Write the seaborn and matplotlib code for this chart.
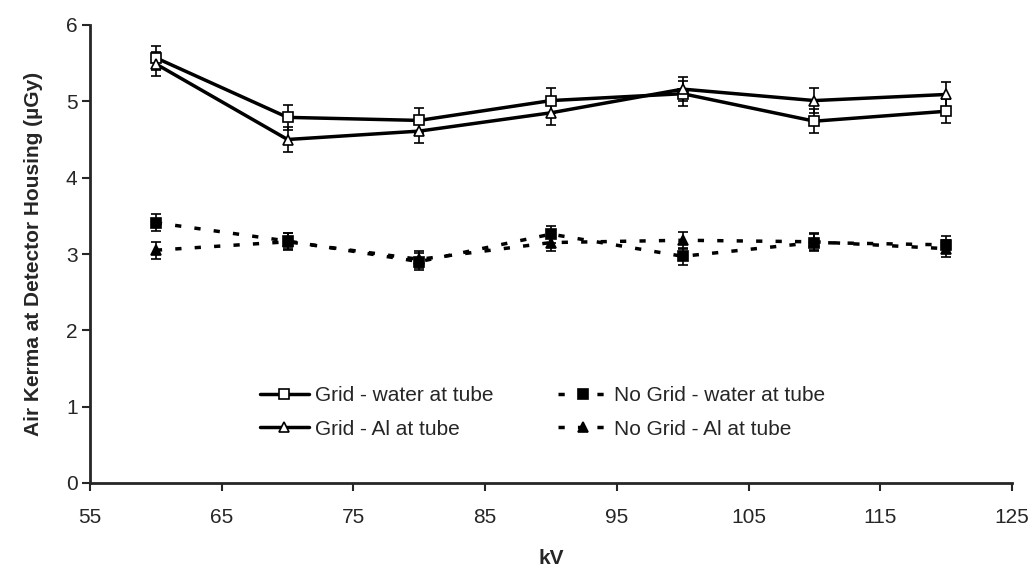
import matplotlib
matplotlib.use("Agg")
import matplotlib.pyplot as plt
import seaborn as sns
import pandas as pd

kv = [60, 70, 80, 90, 100, 110, 120]
grid_water = [5.57, 4.79, 4.75, 5.01, 5.10, 4.74, 4.87]
grid_al = [5.49, 4.50, 4.61, 4.85, 5.16, 5.01, 5.09]
nogrid_water = [3.41, 3.17, 2.90, 3.26, 2.97, 3.15, 3.12]
nogrid_al = [3.05, 3.16, 2.93, 3.15, 3.18, 3.16, 3.07]
err_grid = 0.16
err_nogrid = 0.11

series = [
    ("Grid - water at tube", grid_water, err_grid),
    ("Grid - Al at tube", grid_al, err_grid),
    ("No Grid - water at tube", nogrid_water, err_nogrid),
    ("No Grid - Al at tube", nogrid_al, err_nogrid),
]
dash = (0, (1.8, 3.8))
styles = {
    "Grid - water at tube": dict(marker="s", mfc="white", ls="-"),
    "Grid - Al at tube": dict(marker="^", mfc="white", ls="-"),
    "No Grid - water at tube": dict(marker="s", mfc="black", ls=dash),
    "No Grid - Al at tube": dict(marker="^", mfc="black", ls=dash),
}

df = pd.concat(
    [pd.DataFrame({"kV": kv, "value": vals, "series": name}) for name, vals, _ in series],
    ignore_index=True,
)

sns.set_style("ticks")
plt.rcParams["font.family"] = ["Liberation Sans", "DejaVu Sans"]
FS = 15

W, H = 1034, 569
fig = plt.figure(figsize=(W / 100, H / 100), dpi=100)
left, right, top, bottom = 90, 1012, 25, 483
ax = fig.add_axes([left / W, (H - bottom) / H, (right - left) / W, (bottom - top) / H])

for name, vals, err in series:
    st = styles[name]
    sub = df[df["series"] == name]
    ax.errorbar(sub["kV"], sub["value"], yerr=err, fmt="none", ecolor="black",
                elinewidth=1.2, capsize=3.5, capthick=1.2, zorder=2)
    sns.lineplot(data=sub, x="kV", y="value", ax=ax, color="black",
                 linewidth=2.5, linestyle=st["ls"], marker=st["marker"],
                 markersize=8, markerfacecolor=st["mfc"], markeredgecolor="black",
                 markeredgewidth=1.2, label=name, zorder=3)

ax.set_xlim(55, 125)
ax.set_ylim(0, 6)
ax.set_xticks(range(55, 126, 10))
ax.set_yticks(range(0, 7))
ax.tick_params(axis="both", labelsize=FS, width=1.5, length=6, direction="out")
ax.tick_params(axis="x", pad=12)
ax.tick_params(axis="y", pad=3)
for s in ["left", "bottom"]:
    ax.spines[s].set_linewidth(2)
sns.despine(ax=ax)

ax.set_xlabel("kV", fontsize=FS, fontweight="bold")
ax.set_ylabel("Air Kerma at Detector Housing (\u00b5Gy)", fontsize=FS, fontweight="bold")
ax.xaxis.set_label_coords(0.5, (bottom - 558) / (bottom - top))
ax.xaxis.label.set_va("center")
ax.yaxis.set_label_coords((34 - left) / (right - left), 0.5)
ax.yaxis.label.set_va("center")

handles, labels = ax.get_legend_handles_labels()
for h in handles:
    h.set_markersize(7)
ax.legend(handles, labels, ncol=2, frameon=False, fontsize=FS,
          loc="upper left", bbox_to_anchor=(260 / W, 1 - 386 / H),
          bbox_transform=fig.transFigure, borderpad=0, borderaxespad=0,
          handlelength=2.35, handletextpad=0.3, columnspacing=3.1,
          labelspacing=0.7)

fig.savefig("out.png", dpi=100)
